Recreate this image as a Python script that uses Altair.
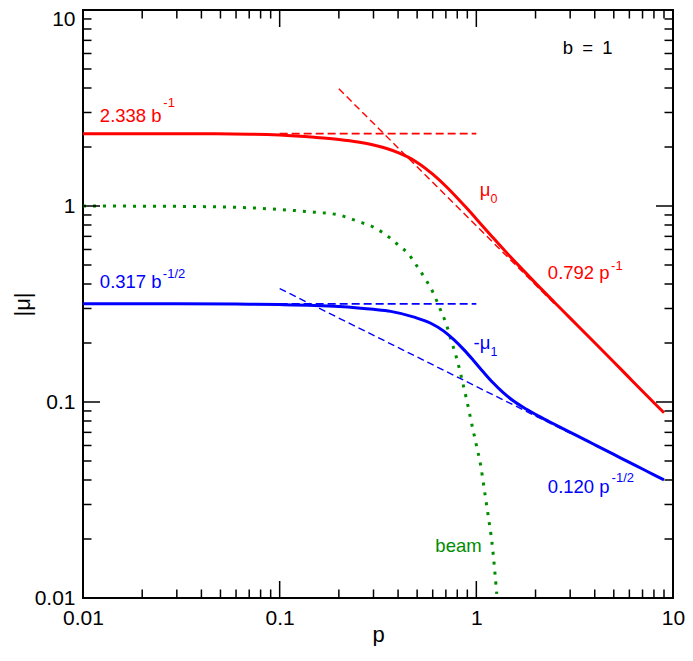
import altair as alt
import pandas as pd

# ---------------- data ----------------
mu0_p = [0.01, 0.02, 0.04, 0.07, 0.1, 0.15, 0.2, 0.25, 0.3, 0.35, 0.4, 0.45, 0.5, 0.6,
         0.7, 0.8, 0.9, 1.0, 1.2, 1.4, 1.7, 2.0, 2.5, 3.0, 4.0, 5.0, 6.0, 7.0, 8.0, 9.0]
mu0_v = [2.338, 2.337, 2.335, 2.325, 2.30, 2.24, 2.183, 2.12, 2.048, 1.965, 1.873, 1.774, 1.669, 1.453,
         1.261, 1.099, 0.967, 0.859, 0.699, 0.589, 0.479, 0.404, 0.322, 0.268, 0.2006, 0.160, 0.1328,
         0.1135, 0.0992, 0.0881]

mu1_p = [0.01, 0.03, 0.06, 0.1, 0.15, 0.2, 0.25, 0.3, 0.367, 0.483, 0.583, 0.683, 0.766, 0.861,
         0.967, 1.086, 1.22, 1.37, 1.54, 1.73, 2.01, 2.34, 2.74, 3.17, 4.0, 5.0, 6.0, 7.0, 8.0, 9.0]
mu1_v = [0.317, 0.317, 0.316, 0.314, 0.311, 0.307, 0.302, 0.297, 0.290, 0.271, 0.253, 0.230, 0.2085, 0.1855,
         0.1629, 0.1422, 0.1249, 0.1115, 0.1015, 0.0940, 0.0862, 0.0795, 0.0733, 0.0681, 0.0605, 0.054, 0.0492,
         0.0455, 0.0425, 0.0401]

beam_p = [0.01, 0.02, 0.04, 0.06, 0.1, 0.15, 0.2, 0.25, 0.3, 0.35, 0.4, 0.45, 0.5, 0.55, 0.6, 0.65,
          0.7, 0.75, 0.8, 0.85, 0.9, 0.95, 1.0, 1.05, 1.1, 1.15, 1.2, 1.27]
beam_v = [1.0, 0.998, 0.993, 0.985, 0.96, 0.93, 0.90, 0.835, 0.78, 0.708, 0.633, 0.572, 0.492, 0.425, 0.365, 0.303,
          0.253, 0.202, 0.163, 0.127, 0.099, 0.0764, 0.0604, 0.048, 0.0353, 0.0261, 0.0193, 0.0105]

red_flat_p = [0.1, 1.0]
red_flat_v = [2.338, 2.338]
red_asym_p = [0.2, 2.5]
red_asym_v = [3.96, 0.317]
blue_flat_p = [0.1, 1.0]
blue_flat_v = [0.317, 0.317]
blue_asym_p = [0.1, 3.0]
blue_asym_v = [0.379, 0.0693]

major_ticks = [0.01, 0.1, 1, 10]
minor_ticks = [0.02, 0.03, 0.04, 0.05, 0.06, 0.07, 0.08, 0.09,
               0.2, 0.3, 0.4, 0.5, 0.6, 0.7, 0.8, 0.9,
               2, 3, 4, 5, 6, 7, 8, 9]

ann_text = ["2.338 b", "-1", "0.317 b", "-1/2", "\u03bc", "0", "0.792 p", "-1",
            "-\u03bc", "1", "0.120 p", "-1/2", "beam", "b\u2002=\u20021"]
ann_p = [0.01218, 0.02562, 0.01218, 0.02547, 1.040, 1.182, 2.310, 4.845,
         0.967, 1.182, 2.310, 4.873, 0.619, 2.749]
ann_v = [2.683, 3.194, 0.3797, 0.4299, 1.127, 1.039, 0.4265, 0.4718,
         0.1863, 0.1718, 0.03448, 0.0389, 0.01718, 5.932]
ann_role = ["main", "sup", "main", "sup", "main", "sub", "main", "sup",
            "main", "sub", "main", "sup", "main", "main"]
ann_series = ["red", "red", "blue", "blue", "red", "red", "red", "red",
              "blue", "blue", "blue", "blue", "green", "black"]

# ---------------- styling ----------------
FONT = "Liberation Sans"
RED = "#ff0000"
BLUE = "#0000ff"
GREEN = "#008c00"
W = 590
H = 588
MAJ = 17
MIN = 8.5

color_of = {"red": RED, "blue": BLUE, "green": GREEN, "black": "#000000"}
size_of = {"main": 18.5, "sup": 13, "sub": 12.5}

xscale = alt.Scale(type="log", domain=[0.01, 10], nice=False, zero=False)
yscale = alt.Scale(type="log", domain=[0.01, 10], nice=False, zero=False)

xaxis = alt.Axis(values=major_ticks, format="~g", ticks=False, tickSize=0, domain=False, grid=False,
                 labelFont=FONT, labelFontSize=21, labelColor="black", labelPadding=9,
                 labelFlush=False, labelOverlap=False,
                 title="p", titleFont=FONT, titleFontSize=22, titleFontWeight="normal",
                 titleColor="black", titleX=W / 2, titleY=43, titleBaseline="alphabetic",
                 titleAlign="center")
yaxis = alt.Axis(values=major_ticks, format="~g", ticks=False, tickSize=0, domain=False, grid=False,
                 labelFont=FONT, labelFontSize=21, labelColor="black", labelPadding=8,
                 labelFlush=False, labelOverlap=False,
                 labelOffset={"condition": {"test": "datum.value >= 10", "value": 9}, "value": 0},
                 title="|\u03bc|", titleFont=FONT, titleFontSize=22, titleFontWeight="normal",
                 titleColor="black", titleX=-54, titleY=H / 2, titleAngle=270,
                 titleBaseline="alphabetic", titleAlign="center")


def X():
    return alt.X("p:Q", scale=xscale, axis=xaxis)


def Y():
    return alt.Y("v:Q", scale=yscale, axis=yaxis)


def line_layer(p, v, color, width, dash=None):
    df = pd.DataFrame({"p": p, "v": v})
    kw = dict(color=color, strokeWidth=width, clip=True, interpolate="monotone")
    if dash is not None:
        kw["strokeDash"] = dash
    return alt.Chart(df).mark_line(**kw).encode(x=X(), y=Y())


layers = [
    line_layer(red_flat_p, red_flat_v, RED, 1.8, [8, 4]),
    line_layer(red_asym_p, red_asym_v, RED, 1.4, [7, 4]),
    line_layer(blue_flat_p, blue_flat_v, BLUE, 1.8, [8, 4]),
    line_layer(blue_asym_p, blue_asym_v, BLUE, 1.4, [7, 4]),
    line_layer(beam_p, beam_v, GREEN, 3, [3, 7]),
    line_layer(mu0_p, mu0_v, RED, 3),
    line_layer(mu1_p, mu1_v, BLUE, 3),
]

# inward ticks on all four sides
maj_df = pd.DataFrame({"p": major_ticks, "v": major_ticks})
min_df = pd.DataFrame({"p": minor_ticks, "v": minor_ticks})
for df, L in ((maj_df, MAJ), (min_df, MIN)):
    base = alt.Chart(df).mark_rule(color="black", strokeWidth=1.5)
    layers.append(base.encode(x=X(), y=alt.value(H), y2=alt.value(H - L)))
    layers.append(base.encode(x=X(), y=alt.value(0), y2=alt.value(L)))
    layers.append(base.encode(y=Y(), x=alt.value(0), x2=alt.value(L)))
    layers.append(base.encode(y=Y(), x=alt.value(W), x2=alt.value(W - L)))

ann_df = pd.DataFrame({
    "label": ann_text,
    "p": ann_p,
    "v": ann_v,
    "col": [color_of[s] for s in ann_series],
    "fs": [size_of[r] for r in ann_role],
})
layers.append(
    alt.Chart(ann_df).mark_text(align="left", baseline="alphabetic", font=FONT).encode(
        x=X(), y=Y(), text="label:N",
        color=alt.Color("col:N", scale=None),
        size=alt.Size("fs:Q", scale=None),
    )
)

chart = alt.layer(*layers).properties(
    width=W, height=H,
    autosize=alt.AutoSizeParams(type="none"),
    padding={"left": 75, "top": 2, "right": 12, "bottom": 48},
    background="white",
).configure_view(stroke="black", strokeWidth=2)

chart.save("out.html", embed_options={"renderer": "svg", "actions": False})
